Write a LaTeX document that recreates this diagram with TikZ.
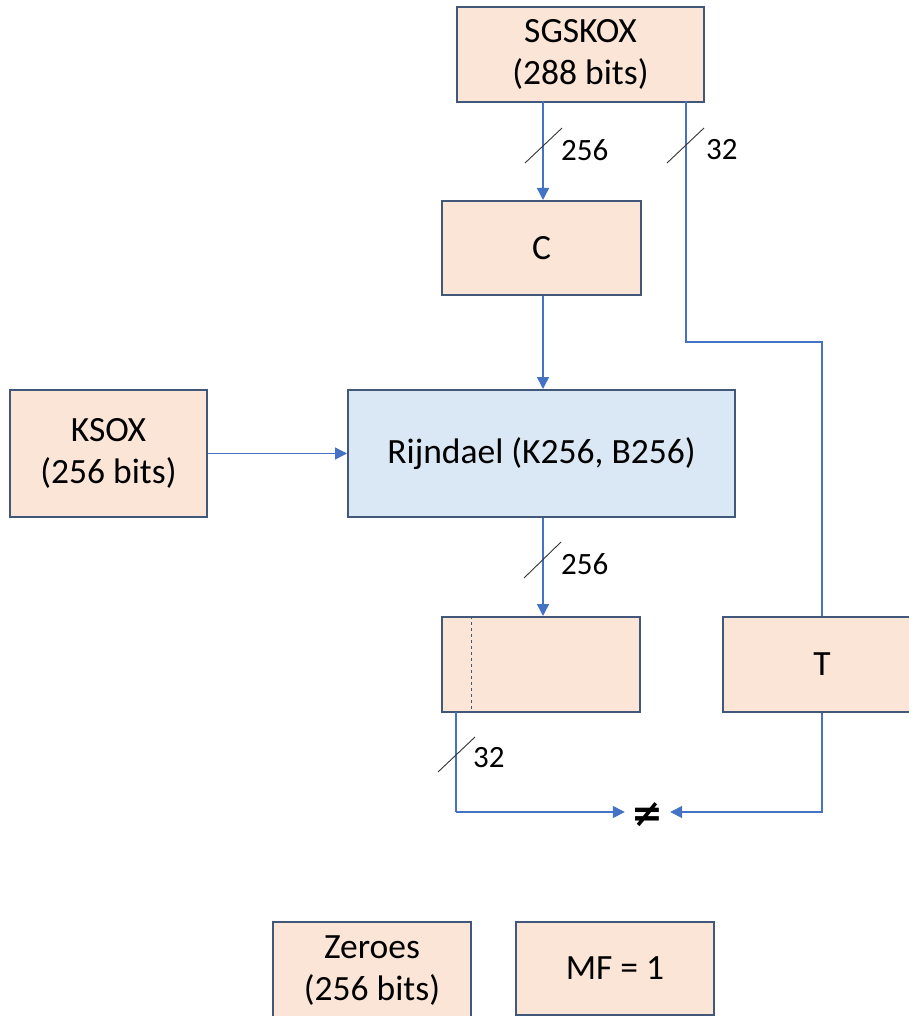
\documentclass[tikz,border=0pt]{standalone}
\usepackage{fontspec}
\setmainfont{Carlito}
\newfontfamily\symfont{DejaVu Sans}
\usetikzlibrary{arrows.meta}
\definecolor{peach}{HTML}{FBE5D6}
\definecolor{paleblue}{HTML}{DAE8F5}
\definecolor{edge}{HTML}{41587A}
\definecolor{wire}{HTML}{4472C4}
\tikzset{
  box/.style={draw=edge, line width=2pt, fill=peach, inner sep=0pt, align=center,
    font=\fontsize{35.5}{42}\selectfont},
  conn/.style={draw=wire, line width=1.5pt},
  arr/.style={conn, -{Triangle[length=12pt,width=12pt]}},
  slash/.style={draw=black!80, line width=0.9pt},
  lbl/.style={font=\fontsize{31}{34}\selectfont, anchor=west, inner sep=0pt},
}
\begin{document}
\begin{tikzpicture}[x=1pt,y=-1pt]
\useasboundingbox (0,0) rectangle (909,1016);
\begin{scope}
\clip (0,0) rectangle (909,1016);
% boxes
\node[box, minimum width=247pt, minimum height=95pt] (sg) at (580.5,54.5) {SGSKOX\\(288 bits)};
\node[box, minimum width=199pt, minimum height=94pt] (c) at (541.5,248) {C};
\node[box, fill=paleblue, minimum width=387pt, minimum height=127pt] (rij) at (541.5,453.5) {Rijndael (K256, B256)};
\node[box, minimum width=197pt, minimum height=127pt] (ksox) at (108.5,453.5) {KSOX\\(256 bits)};
\node[box, minimum width=198pt, minimum height=95pt] (out) at (541,664.5) {};
\node[box, minimum width=198pt, minimum height=95pt] (t) at (822,664.5) {T};
\node[box, minimum width=198pt, minimum height=98pt] (zero) at (372,971) {Zeroes\\(256 bits)};
\node[box, minimum width=198pt, minimum height=93pt] (mf) at (615,968.5) {MF = 1};
\node[font=\symfont\bfseries\fontsize{38}{38}\selectfont, inner sep=0pt, minimum width=45pt] (ne) at (647.5,815) {≠};
% dashed split inside the output block
\draw[draw=edge, dashed, line width=0.8pt] ([xshift=30pt]out.north west) -- ([xshift=30pt]out.south west);
% connectors
\coordinate (sgl) at (543,101.5);
\coordinate (sgr) at (686,101.5);
\coordinate (bend1) at (686,342);
\coordinate (bend2) at (822,342);
\coordinate (outl) at (456,712);
\coordinate (low1) at (456,812);
\coordinate (low2) at (822,812);
\draw[arr] (sgl) -- (sgl |- c.north);
\draw[conn] (sgr) -- (bend1) -- (bend2) -- (t.north);
\draw[arr] (sgl |- c.south) -- (sgl |- rij.north);
\draw[arr] (ksox.east) -- (rij.west);
\draw[arr] (sgl |- rij.south) -- (sgl |- out.north);
\draw[conn] (outl) -- (low1);
\draw[arr] (low1) -- (low1 -| ne.west);
\draw[arr] (t.south) -- (low2) -- (low2 -| ne.east);
% bus width marks
\draw[slash] (525,163) -- (562,128);
\node[lbl] (l1) at (561,150) {256};
\draw[slash] (667,163) -- (704,128);
\node[lbl] (l2) at (706,150) {32};
\draw[slash] (524,578) -- (561,542);
\node[lbl] (l3) at (561,564) {256};
\draw[slash] (438,772) -- (475,737);
\node[lbl] (l4) at (473,758) {32};
\end{scope}
\end{tikzpicture}
\end{document}
